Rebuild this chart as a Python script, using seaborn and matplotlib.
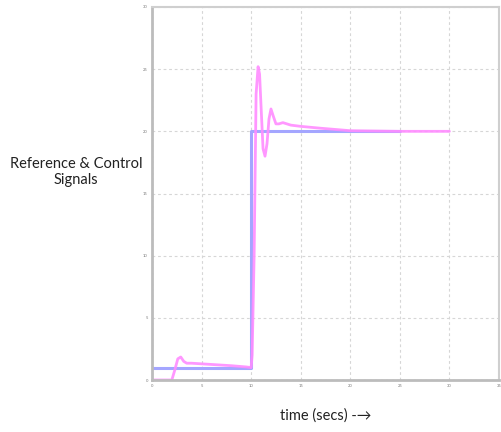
import numpy as np
import pandas as pd
import matplotlib
matplotlib.use("Agg")
import matplotlib.pyplot as plt
import seaborn as sns

# Reference signal (step input)
ref_t = [0, 10, 10, 25]
ref_v = [1, 1, 20, 20]

# Control signal (system response)
ctl_t = [0, 2.0, 2.3, 2.6, 2.9, 3.2, 3.5, 4, 5, 6, 8, 9.5, 10.0, 10.1, 10.3, 10.5,
         10.7, 10.85, 11.0, 11.2, 11.4, 11.6, 11.8, 12.0, 12.2, 12.5, 12.8, 13.2,
         14, 15, 17, 20, 25, 30]
ctl_v = [0, 0, 0.8, 1.7, 1.85, 1.5, 1.35, 1.35, 1.3, 1.25, 1.15, 1.05, 1.0, 2, 10, 23,
         25.2, 24.6, 22, 18.6, 18.0, 19, 21, 21.8, 21.3, 20.6, 20.6, 20.7,
         20.5, 20.4, 20.25, 20.05, 20.0, 20.0]

x_ticks = [0, 5, 10, 15, 20, 25, 30, 35]
y_ticks = [0, 5, 10, 15, 20, 25, 30]

sns.set_theme(style="white")
plt.rcParams["font.family"] = ["Lato", "DejaVu Sans"]

fig = plt.figure(figsize=(5.01, 4.32), dpi=100)
ax = fig.add_axes([152 / 501, 1 - 380 / 432, (499 - 152) / 501, (380 - 7) / 432])

ref_df = pd.DataFrame({"t": ref_t, "v": ref_v})
ctl_df = pd.DataFrame({"t": ctl_t, "v": ctl_v})

sns.lineplot(data=ref_df, x="t", y="v", ax=ax, color="#a4a6ff", lw=2.2,
             sort=False, estimator=None)
sns.lineplot(data=ctl_df, x="t", y="v", ax=ax, color="#ff8cff", lw=2.0,
             sort=False, estimator=None, alpha=0.9)

ax.set_xlim(0, 35)
ax.set_ylim(0, 30)
ax.set_xticks(x_ticks)
ax.set_yticks(y_ticks)
ax.set_xticklabels([str(v) for v in x_ticks])
ax.set_yticklabels([str(v) for v in y_ticks])
ax.tick_params(axis="both", labelsize=3, colors="#777777", length=2, width=1,
               direction="out", pad=1)

ax.grid(True, linestyle=(0, (2.5, 2.5)), color="#d6d6d6", linewidth=0.8)

for side in ["left", "bottom"]:
    ax.spines[side].set_color("#bcbcbc")
    ax.spines[side].set_linewidth(2.0)
for side in ["top", "right"]:
    ax.spines[side].set_color("#cfcfcf")
    ax.spines[side].set_linewidth(1.5)

ax.set_xlabel("")
ax.set_ylabel("")

fig.text(76 / 501, 1 - 172 / 432, "Reference & Control\nSignals", ha="center",
         va="center", fontsize=10.5, color="#222222", linespacing=1.2)
fig.text(326 / 501, 1 - 416 / 432, "time (secs) -\u2192", ha="center", va="center",
         fontsize=10.5, color="#222222")

fig.savefig("out.png", dpi=100)
